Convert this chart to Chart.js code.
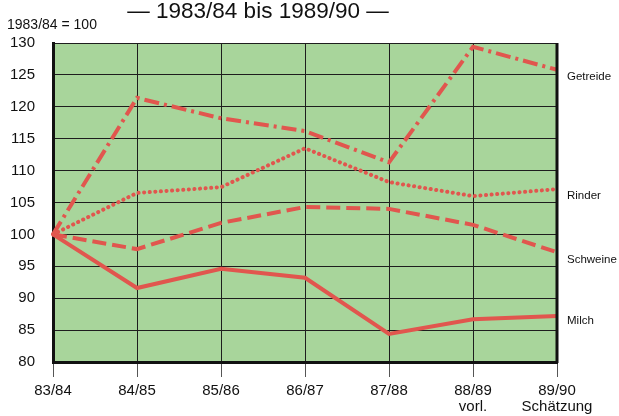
<!DOCTYPE html>
<html>
<head>
<meta charset="utf-8">
<script src="https://cdn.jsdelivr.net/npm/chart.js@4/dist/chart.umd.min.js"></script>
<style>
html,body{margin:0;padding:0;background:#fff;}
#wrap{width:619px;height:416px;position:relative;}
</style>
</head>
<body>
<div id="wrap"><canvas id="c" width="619" height="416"></canvas></div>
<script>
// Data (index 1983/84 = 100)
const categories = ['83/84', '84/85', '85/86', '86/87', '87/88', ['88/89', 'vorl.'], ['89/90', 'Schätzung']];
const getreide = [100, 121.4, 118.2, 116.2, 111.3, 129.4, 125.8];
const rinder   = [100, 106.5, 107.4, 113.5, 108.2, 106.0, 107.1];
const schweine = [100, 97.7, 101.8, 104.3, 104.0, 101.5, 97.2];
const milch    = [100, 91.6, 94.6, 93.2, 84.4, 86.7, 87.2];
const seriesNames = ['Getreide', 'Rinder', 'Schweine', 'Milch'];
const yTicks = [80, 85, 90, 95, 100, 105, 110, 115, 120, 125, 130];
const titleText = '— 1983/84 bis 1989/90 —';
const baseText = '1983/84 = 100';

const FONT = "'Liberation Sans', Arial, Helvetica, sans-serif";
const RED = '#e1564e';

const bgPlugin = {
  id: 'bg',
  beforeDraw(chart) {
    const {ctx, chartArea: a} = chart;
    ctx.save();
    ctx.fillStyle = '#a8d59b';
    ctx.fillRect(a.left, a.top, a.right - a.left, a.bottom - a.top);
    ctx.restore();
  },
  afterDraw(chart) {
    const {ctx, chartArea: a} = chart;
    ctx.save();
    // right border
    ctx.strokeStyle = '#111';
    ctx.lineWidth = 3;
    ctx.beginPath();
    ctx.moveTo(a.right, a.top);
    ctx.lineTo(a.right, a.bottom + 1);
    ctx.stroke();
    // title texts
    ctx.fillStyle = '#111';
    ctx.textBaseline = 'middle';
    ctx.textAlign = 'center';
    ctx.font = '22.5px ' + FONT;
    ctx.fillText(titleText, 258, 12);
    ctx.textAlign = 'left';
    ctx.font = '14px ' + FONT;
    ctx.fillText(baseText, 7, 25);
    // series labels at right
    ctx.font = '11.5px ' + FONT;
    const labelY = {Getreide: 77, Rinder: 196, Schweine: 260, Milch: 321};
    seriesNames.forEach(n => ctx.fillText(n, 567, labelY[n]));
    ctx.restore();
  }
};

const common = {borderColor: RED, borderWidth: 4, pointRadius: 0, tension: 0, fill: false};

new Chart(document.getElementById('c'), {
  type: 'line',
  data: {
    labels: categories,
    datasets: [
      Object.assign({label: seriesNames[0], data: getreide, borderDash: [15, 5, 3, 5]}, common),
      Object.assign({label: seriesNames[1], data: rinder, borderDash: [0.1, 5.5], borderCapStyle: 'round'}, common),
      Object.assign({label: seriesNames[2], data: schweine, borderDash: [14, 6]}, common),
      Object.assign({label: seriesNames[3], data: milch}, common)
    ]
  },
  options: {
    responsive: false,
    animation: false,
    devicePixelRatio: 1,
    layout: {padding: {left: 0, right: 62, top: 43, bottom: 0}},
    plugins: {legend: {display: false}, tooltip: {enabled: false}, title: {display: false}},
    scales: {
      x: {
        type: 'category',
        offset: false,
        grid: {color: '#1e1e1e', lineWidth: 1, tickLength: 15, drawTicks: true, tickColor: '#555'},
        border: {display: true, color: '#111', width: 3},
        ticks: {color: '#111', font: {family: FONT, size: 15, lineHeight: 1.05}, padding: 6, maxRotation: 0, autoSkip: false},
        afterFit(scale) { scale.height = 54; }
      },
      y: {
        min: 80, max: 130,
        afterBuildTicks(scale) { scale.ticks = yTicks.map(v => ({value: v})); },
        grid: {color: '#1e1e1e', lineWidth: 1, drawTicks: false},
        border: {display: true, color: '#111', width: 3},
        ticks: {color: '#111', font: {family: FONT, size: 15}, padding: 18},
        afterFit(scale) { scale.width = 53; }
      }
    }
  },
  plugins: [bgPlugin]
});
</script>
</body>
</html>
